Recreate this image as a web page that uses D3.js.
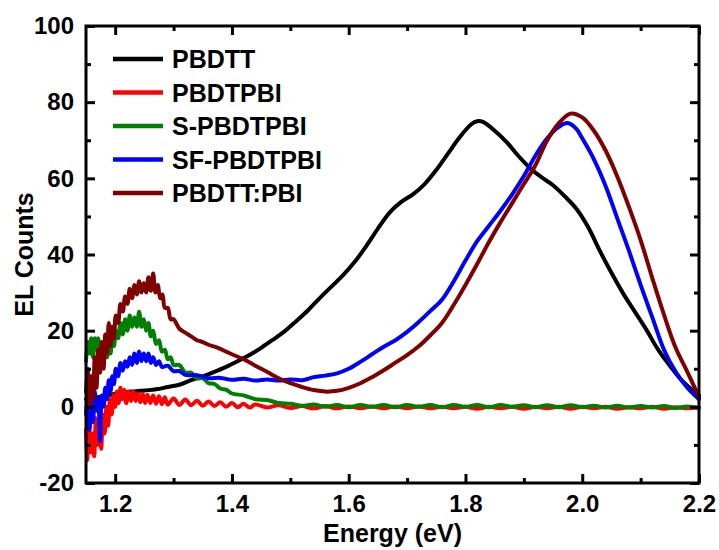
<!DOCTYPE html>
<html>
<head>
<meta charset="utf-8">
<script src="https://cdn.jsdelivr.net/npm/d3@7"></script>
<style>
  body { margin: 0; background: #fff; }
  svg text { font-family: "Liberation Sans", Arial, sans-serif; font-weight: bold; fill: #000; }
</style>
</head>
<body>
<svg id="chart" width="719" height="550"></svg>
<script>
// series: [energy (eV), EL counts]
var pbdtt = [
  [1.15,2],[1.17,2.5],[1.19,3],[1.21,3.8],[1.23,4],[1.25,4.3],[1.27,4.6],[1.29,5.2],[1.31,5.8],
  [1.33,7],[1.35,8],[1.37,9.2],[1.39,10.5],[1.41,12],[1.43,13.6],[1.45,15.5],[1.47,17.6],[1.49,19.8],
  [1.51,22.5],[1.53,25.3],[1.55,28.5],[1.57,31.5],[1.59,34.5],[1.61,38],[1.63,42.2],[1.65,46.8],
  [1.67,51],[1.69,53.8],[1.71,55.8],[1.73,58.5],[1.75,62.2],[1.77,66.5],[1.79,70.8],[1.81,74.2],
  [1.82,75],[1.83,74.8],[1.85,72.5],[1.87,69.6],[1.89,66],[1.91,62.8],[1.93,60.3],[1.95,58.2],
  [1.97,55.3],[1.99,52],[2.01,47.2],[2.03,41],[2.05,35.2],[2.07,29.8],[2.09,25],[2.11,20.2],
  [2.13,15],[2.15,10.8],[2.17,7],[2.19,4.2],[2.2,3]
];

var pbdtpbi = [
  [1.15,-6],[1.152,-14],[1.155,-4],[1.158,-12],[1.161,-7],[1.164,-13],[1.167,-3],[1.17,-10],
  [1.173,-5],[1.176,-11],[1.179,-2],[1.182,-7],[1.185,0],[1.188,-5],[1.191,2],[1.194,-2],[1.197,3],
  [1.2,0],[1.203,4],[1.206,1],[1.209,5],[1.212,2],[1.215,4.5],[1.219,1],[1.223,4],[1.227,1.5],
  [1.231,4],[1.235,1.5],[1.239,3.5],[1.243,1.2],[1.247,3.5],[1.251,1],[1.255,3.2],[1.26,1],
  [1.265,3],[1.27,0.8],[1.275,2.8],[1.28,0.7],[1.285,2.5],[1.29,0.6],[1.3,2.2],[1.31,0.5],
  [1.32,1.9],[1.33,0.4],[1.34,1.6],[1.35,0.3],[1.36,1.4],[1.37,0.2],[1.38,1.2],[1.39,0],
  [1.4,1],[1.41,-0.1],[1.42,0.8],[1.43,-0.2],[1.44,0.6],[1.46,-0.2],[1.48,0.4],[1.5,-0.3],
  [1.52,0.2],[1.54,-0.4],[1.56,0.2],[1.58,-0.4],[1.6,0.1],[1.62,-0.4],[1.64,0.1],[1.66,-0.4],
  [1.68,0.1],[1.7,-0.4],[1.72,0.1],[1.74,-0.4],[1.76,0],[1.78,-0.4],[1.8,0],[1.82,-0.5],
  [1.84,0],[1.86,-0.4],[1.88,0],[1.9,-0.5],[1.92,0],[1.94,-0.4],[1.96,0],[1.98,-0.5],[2,0],
  [2.02,-0.4],[2.04,0],[2.06,-0.5],[2.08,-0.1],[2.1,-0.4],[2.12,0],[2.14,-0.5],[2.16,-0.1],
  [2.18,-0.4],[2.2,-0.2]
];

var sPbdtpbi = [
  [1.15,12],[1.153,17],[1.156,14],[1.159,18],[1.162,13],[1.165,18],[1.168,15],[1.171,18],[1.174,12],
  [1.177,16],[1.18,11],[1.183,15],[1.186,13],[1.189,17],[1.192,14],[1.195,18],[1.198,16],[1.201,20],
  [1.205,18],[1.209,22],[1.213,19],[1.217,23],[1.221,20],[1.225,24],[1.229,21],[1.233,23.5],
  [1.237,21],[1.241,25],[1.245,21],[1.249,23],[1.253,20],[1.257,22],[1.261,18.5],[1.265,20],
  [1.27,16.5],[1.275,17.5],[1.28,14.5],[1.285,15],[1.29,12.5],[1.295,13],[1.3,11],[1.31,11],
  [1.32,9],[1.33,9],[1.34,7.5],[1.35,7.5],[1.36,6.2],[1.37,6],[1.38,4.8],[1.39,4.5],[1.4,3.5],
  [1.42,3],[1.44,2],[1.46,1.8],[1.48,1],[1.5,0.8],[1.52,0.3],[1.54,0.6],[1.56,0],[1.58,0.5],
  [1.6,-0.1],[1.62,0.5],[1.64,0],[1.66,0.5],[1.68,-0.1],[1.7,0.5],[1.72,0],[1.74,0.5],
  [1.76,-0.1],[1.78,0.5],[1.8,0],[1.82,0.5],[1.84,-0.1],[1.86,0.5],[1.88,0],[1.9,0.4],
  [1.92,-0.1],[1.94,0.4],[1.96,-0.1],[1.98,0.4],[2,-0.1],[2.02,0.3],[2.04,-0.2],[2.06,0.3],
  [2.08,-0.2],[2.1,0.2],[2.12,-0.2],[2.14,0.2],[2.16,-0.3],[2.18,0.1],[2.2,-0.3]
];

var sfPbdtpbi = [
  [1.15,-2],[1.153,3],[1.156,-6],[1.159,1],[1.162,-4],[1.165,4],[1.168,-1],[1.171,2],[1.174,-9],
  [1.177,3],[1.18,0],[1.183,5],[1.186,2],[1.189,7],[1.192,4],[1.195,8],[1.198,6],[1.201,10],
  [1.205,8],[1.209,11.5],[1.213,9.5],[1.217,12],[1.221,10.5],[1.225,13],[1.229,11],[1.233,14],
  [1.237,11.5],[1.241,14.5],[1.245,12],[1.249,14],[1.253,12],[1.257,14],[1.261,11.5],[1.265,13],
  [1.27,11],[1.275,12],[1.28,10.5],[1.29,10.8],[1.3,9.4],[1.31,9.4],[1.32,8.4],[1.34,8.3],
  [1.36,7.5],[1.38,7.6],[1.4,7.1],[1.42,7.4],[1.44,6.9],[1.46,7.2],[1.48,6.9],[1.5,7.2],[1.52,7],
  [1.54,7.8],[1.56,8.2],[1.58,8.8],[1.6,10],[1.62,11.8],[1.64,13.8],[1.66,15.8],[1.68,17.5],
  [1.7,19.7],[1.72,22.3],[1.74,25.2],[1.76,28.2],[1.78,33],[1.8,38.4],[1.82,43.5],[1.84,47.5],
  [1.86,51.5],[1.88,55.8],[1.9,60.6],[1.92,66],[1.94,70.5],[1.96,73.5],[1.975,74.5],[1.99,73],
  [2,70.5],[2.02,65],[2.04,58],[2.06,49.5],[2.08,41],[2.1,32],[2.12,23.5],[2.14,15],[2.16,9.2],
  [2.18,5],[2.2,2]
];

var pbdttPbi = [
  [1.15,4],[1.153,10],[1.156,0],[1.159,8],[1.162,2],[1.165,13],[1.168,5],[1.171,15],[1.174,9],
  [1.177,17],[1.18,10],[1.183,19],[1.186,14],[1.189,22],[1.192,16],[1.195,21],[1.198,18],[1.201,24],
  [1.205,22],[1.209,27],[1.213,25],[1.217,29],[1.221,27],[1.225,31],[1.229,28.5],[1.233,32],
  [1.237,29.5],[1.241,33],[1.245,30],[1.249,32.5],[1.253,30],[1.257,34],[1.261,30.5],[1.265,35],
  [1.269,30],[1.273,32],[1.277,28.5],[1.281,29.5],[1.285,26],[1.29,26],[1.295,23],[1.3,23],
  [1.31,20.5],[1.32,19.5],[1.33,18.5],[1.34,17.5],[1.35,17],[1.36,16.3],[1.37,15.8],[1.38,15.2],
  [1.39,14.5],[1.4,13.8],[1.42,12.5],[1.44,10.8],[1.46,9.2],[1.48,7.5],[1.5,6.2],[1.52,5.2],
  [1.54,4.4],[1.56,4],[1.58,4.2],[1.6,5],[1.62,6.2],[1.64,7.8],[1.66,9.6],[1.68,11.6],[1.7,13.6],
  [1.72,15.9],[1.74,18.8],[1.76,22.1],[1.78,26.8],[1.8,32],[1.82,37.5],[1.84,43.2],[1.86,48.5],
  [1.88,53.5],[1.9,58.5],[1.92,63.5],[1.94,70],[1.96,74.5],[1.98,77],[2,76],[2.02,72.5],
  [2.04,67.3],[2.06,60.5],[2.08,52.5],[2.1,43.8],[2.12,33.8],[2.14,24.2],[2.16,15.5],[2.18,9.2],
  [2.2,2.6]
];

var seriesNames = ["PBDTT", "PBDTPBI", "S-PBDTPBI", "SF-PBDTPBI", "PBDTT:PBI"];
var seriesData = [pbdtt, pbdtpbi, sPbdtpbi, sfPbdtpbi, pbdttPbi];
var seriesColors = ["#000000", "#ff0000", "#008000", "#0000ff", "#800000"];

var xMajor = [1.2, 1.4, 1.6, 1.8, 2.0, 2.2];
var xMinor = [1.3, 1.5, 1.7, 1.9, 2.1];
var yMajor = [-20, 0, 20, 40, 60, 80, 100];
var yMinor = [-10, 10, 30, 50, 70, 90];

var svg = d3.select("svg#chart");

var plotLeft = 86, plotRight = 699, plotTop = 26, plotBottom = 483;

var x = d3.scaleLinear().domain([1.15, 2.2]).range([plotLeft, plotRight]);
var y = d3.scaleLinear().domain([-20, 100]).range([plotBottom, plotTop]);

//draw curves, legend order so the last one ends on top
var line = d3.line()
    .x(function(d) { return x(d[0]); })
    .y(function(d) { return y(d[1]); })
    .curve(d3.curveCatmullRom.alpha(0.5));

svg.append("g")
    .attr("class", "curves")
    .selectAll("path")
    .data(seriesData)
    .enter().append("path")
    .attr("d", line)
    .attr("fill", "none")
    .attr("stroke", function(d, i) { return seriesColors[i]; })
    .attr("stroke-width", 4)
    .attr("stroke-linejoin", "round")
    .attr("stroke-linecap", "round");

//axes, ticks inward on all four sides
function styleAxis(g) {
  g.select(".domain").remove();
  g.selectAll(".tick line").attr("stroke-width", 3);
  g.selectAll(".tick text").style("font-size", "24px").style("font-family", null);
}

var xFmt = d3.format(".1f");
var yFmt = function(d) { return String(d); }; // plain hyphen for -20

svg.append("g").attr("transform", "translate(0," + plotBottom + ")")
    .call(d3.axisBottom(x).tickValues(xMajor).tickSize(-9).tickPadding(12).tickFormat(xFmt))
    .call(styleAxis);
svg.append("g").attr("transform", "translate(0," + plotBottom + ")")
    .call(d3.axisBottom(x).tickValues(xMinor).tickSize(-5).tickFormat(""))
    .call(styleAxis);
svg.append("g").attr("transform", "translate(0," + plotTop + ")")
    .call(d3.axisTop(x).tickValues(xMajor).tickSize(-9).tickFormat(""))
    .call(styleAxis);
svg.append("g").attr("transform", "translate(0," + plotTop + ")")
    .call(d3.axisTop(x).tickValues(xMinor).tickSize(-5).tickFormat(""))
    .call(styleAxis);

svg.append("g").attr("transform", "translate(" + plotLeft + ",0)")
    .call(d3.axisLeft(y).tickValues(yMajor).tickSize(-9).tickPadding(12).tickFormat(yFmt))
    .call(styleAxis);
svg.append("g").attr("transform", "translate(" + plotLeft + ",0)")
    .call(d3.axisLeft(y).tickValues(yMinor).tickSize(-5).tickFormat(""))
    .call(styleAxis);
svg.append("g").attr("transform", "translate(" + plotRight + ",0)")
    .call(d3.axisRight(y).tickValues(yMajor).tickSize(-9).tickFormat(""))
    .call(styleAxis);
svg.append("g").attr("transform", "translate(" + plotRight + ",0)")
    .call(d3.axisRight(y).tickValues(yMinor).tickSize(-5).tickFormat(""))
    .call(styleAxis);

svg.selectAll(".tick text").attr("fill", "#000");

//frame
svg.append("rect")
    .attr("x", plotLeft).attr("y", plotTop)
    .attr("width", plotRight - plotLeft).attr("height", plotBottom - plotTop)
    .attr("fill", "none")
    .attr("stroke", "#000")
    .attr("stroke-width", 3);

//axis titles
svg.append("text")
    .attr("x", (plotLeft + plotRight) / 2)
    .attr("y", 542)
    .attr("text-anchor", "middle")
    .style("font-size", "25px")
    .text("Energy (eV)");

svg.append("text")
    .attr("transform", "translate(33," + ((plotTop + plotBottom) / 2) + ") rotate(-90)")
    .attr("text-anchor", "middle")
    .style("font-size", "25px")
    .text("EL Counts");

//legend
var legend = svg.append("g").attr("class", "legend")
    .selectAll("g")
    .data(seriesNames)
    .enter().append("g")
    .attr("transform", function(d, i) { return "translate(113," + (59 + i * 33.5) + ")"; });

legend.append("line")
    .attr("x1", 0).attr("x2", 50)
    .attr("stroke", function(d, i) { return seriesColors[i]; })
    .attr("stroke-width", 4.5);

legend.append("text")
    .attr("x", 59)
    .attr("y", 9)
    .style("font-size", "25px")
    .text(function(d) { return d; });
</script>
</body>
</html>
